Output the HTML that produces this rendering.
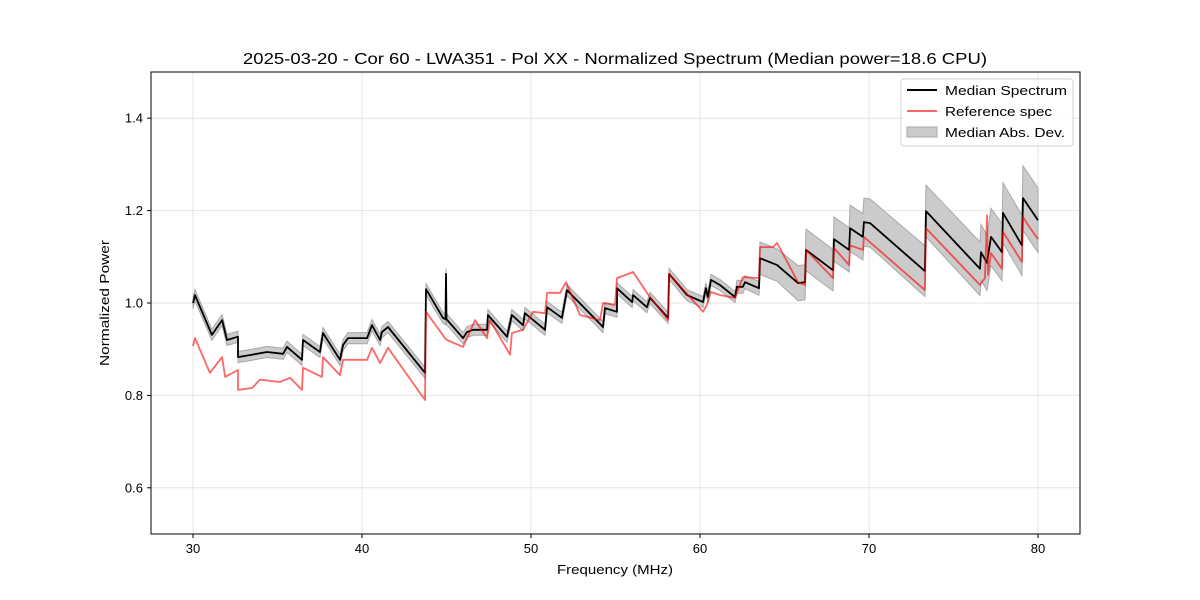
<!DOCTYPE html>
<html><head><meta charset="utf-8"><style>
body{margin:0;background:#fff}
svg{display:block;font-family:"Liberation Sans","DejaVu Sans",sans-serif}
</style></head><body>
<svg id="chart" width="1200" height="600" xmlns="http://www.w3.org/2000/svg"></svg>
<script>
const medFreq=[30.0,30.12,31.12,31.72,32.01,32.66,32.66,33.49,34.38,35.33,35.56,36.45,36.51,37.51,37.69,38.70,38.88,39.17,40.30,40.59,41.07,41.18,41.54,43.73,43.79,44.79,44.94,44.97,45.0,45.98,46.21,46.57,47.40,47.45,48.58,48.87,49.53,49.64,50.83,50.95,51.83,52.13,54.26,54.38,55.09,55.09,55.98,56.04,56.86,57.04,58.11,58.17,59.23,60.18,60.35,60.47,60.65,61.18,62.07,62.19,62.54,62.66,63.49,63.55,64.56,65.80,66.21,66.27,67.87,67.93,68.82,68.88,69.64,69.70,70.06,73.31,73.37,76.57,76.63,76.98,77.22,77.87,77.93,79.05,79.11,80.0];
const medVal=[1.000,1.017,0.931,0.963,0.920,0.927,0.883,0.888,0.894,0.890,0.905,0.877,0.920,0.894,0.935,0.877,0.909,0.924,0.924,0.952,0.920,0.937,0.948,0.849,1.030,0.968,0.965,1.063,0.965,0.924,0.937,0.942,0.942,0.974,0.927,0.974,0.952,0.978,0.942,0.991,0.968,1.028,0.948,0.989,0.981,1.032,1.002,1.017,0.991,1.011,0.968,1.063,1.017,1.002,1.032,1.013,1.050,1.039,1.013,1.035,1.035,1.045,1.032,1.097,1.082,1.043,1.045,1.115,1.071,1.138,1.115,1.162,1.143,1.175,1.173,1.069,1.199,1.074,1.110,1.087,1.143,1.110,1.195,1.125,1.227,1.179];
const medMad=[0.012,0.012,0.012,0.012,0.012,0.012,0.012,0.012,0.012,0.012,0.012,0.012,0.012,0.012,0.012,0.012,0.012,0.012,0.012,0.012,0.012,0.012,0.012,0.012,0.012,0.012,0.012,0.012,0.012,0.012,0.012,0.012,0.012,0.012,0.012,0.012,0.012,0.012,0.012,0.012,0.012,0.012,0.012,0.012,0.012,0.012,0.012,0.012,0.012,0.012,0.012,0.012,0.012,0.012,0.012,0.012,0.012,0.012,0.012,0.014,0.014,0.014,0.015,0.035,0.035,0.038,0.038,0.045,0.045,0.048,0.048,0.05,0.05,0.052,0.052,0.055,0.056,0.058,0.06,0.06,0.062,0.062,0.065,0.065,0.07,0.07];
const refFreq=[30.0,30.12,31.0,31.72,31.9,32.66,32.66,33.49,33.96,35.15,35.74,36.45,36.51,37.63,37.69,38.70,38.88,40.30,40.59,41.07,41.54,43.73,43.79,44.91,45.03,45.98,46.69,47.40,47.57,48.76,48.87,49.53,50.12,50.83,50.95,51.72,52.07,52.90,54.08,54.26,54.97,55.09,56.04,56.86,58.11,58.17,60.18,60.41,60.65,61.18,62.07,62.54,63.49,63.55,64.32,64.56,65.80,66.21,66.27,67.87,67.93,68.82,68.88,69.64,69.70,73.31,73.37,76.57,76.86,76.98,77.04,77.22,77.87,77.93,79.05,79.11,79.41,80.0];
const refVal=[0.907,0.924,0.849,0.883,0.840,0.855,0.812,0.816,0.834,0.829,0.838,0.812,0.860,0.840,0.883,0.844,0.877,0.877,0.903,0.870,0.903,0.790,0.981,0.924,0.920,0.905,0.963,0.924,0.963,0.888,0.935,0.942,0.981,0.978,1.022,1.022,1.045,0.974,0.963,1.000,0.996,1.054,1.067,1.022,0.963,1.063,0.981,0.996,1.024,1.017,1.011,1.056,1.054,1.121,1.121,1.130,1.045,1.039,1.115,1.054,1.119,1.082,1.125,1.115,1.143,1.028,1.162,1.039,1.054,1.190,1.061,1.108,1.074,1.154,1.089,1.186,1.169,1.138];
const xTicks=[30,40,50,60,70,80];
const yTicks=[0.6,0.8,1.0,1.2,1.4];

const NS='http://www.w3.org/2000/svg';
const svg=document.getElementById('chart');
const L=151,R=1080,T=72,B=534;
const xMin=27.515,xMax=82.485,yMin=0.5,yMax=1.5;
const sx=f=>L+(f-xMin)/(xMax-xMin)*(R-L);
const sy=v=>B-(v-yMin)/(yMax-yMin)*(B-T);
function mk(tag,attrs,parent){const e=document.createElementNS(NS,tag);for(const k in attrs)e.setAttribute(k,attrs[k]);(parent||svg).appendChild(e);return e;}

mk('rect',{x:0,y:0,width:1200,height:600,fill:'#fff'});
xTicks.forEach(t=>{const g=mk('line',{x1:sx(t),x2:sx(t),y1:T,y2:B,stroke:'#e4e4e4','stroke-width':1});

});
yTicks.forEach(t=>{const g=mk('line',{x1:L,x2:R,y1:sy(t),y2:sy(t),stroke:'#e4e4e4','stroke-width':1});

});

let up=medFreq.map((f,i)=>sx(f).toFixed(1)+','+sy(medVal[i]+medMad[i]).toFixed(1));
let dn=medFreq.map((f,i)=>sx(f).toFixed(1)+','+sy(medVal[i]-medMad[i]).toFixed(1)).reverse();
const band=mk('polygon',{points:up.concat(dn).join(' '),fill:'#cbcbcb',stroke:'#a8a8a8','stroke-width':1});



const med=mk('polyline',{points:medFreq.map((f,i)=>sx(f).toFixed(1)+','+sy(medVal[i]).toFixed(1)).join(' '),fill:'none',stroke:'#000','stroke-width':1.8,'stroke-linejoin':'round'});


const ref=mk('polyline',{points:refFreq.map((f,i)=>sx(f).toFixed(1)+','+sy(refVal[i]).toFixed(1)).join(' '),fill:'none',stroke:'#ff0000','stroke-opacity':0.6,'stroke-width':1.8,'stroke-linejoin':'round'});



const fr=mk('rect',{x:L,y:T,width:R-L,height:B-T,fill:'none',stroke:'#000','stroke-width':1});


xTicks.forEach(t=>{mk('line',{x1:sx(t),x2:sx(t),y1:B,y2:B+4,stroke:'#000'});
const tx=mk('text',{x:sx(t),y:B+19,'text-anchor':'middle','font-size':13});tx.textContent=t;

});
yTicks.forEach(t=>{mk('line',{x1:L-4,x2:L,y1:sy(t),y2:sy(t),stroke:'#000'});
const tx=mk('text',{x:L-8,y:sy(t)+4.5,'text-anchor':'end','font-size':13});tx.textContent=t.toFixed(1);

});
</script>
<svg style="position:absolute;left:0;top:0" width="1200" height="600" xmlns="http://www.w3.org/2000/svg" font-family="Liberation Sans, DejaVu Sans, sans-serif">
<text x="243" y="64" font-size="16" textLength="744" lengthAdjust="spacingAndGlyphs">2025-03-20 - Cor 60 - LWA351 - Pol XX - Normalized Spectrum (Median power=18.6 CPU)</text>
<text x="557" y="574" font-size="13" textLength="116" lengthAdjust="spacingAndGlyphs">Frequency (MHz)</text>
<text transform="translate(109,366) rotate(-90)" font-size="13" textLength="126" lengthAdjust="spacingAndGlyphs">Normalized Power</text>
<g>
<rect x="901" y="79" width="172" height="67" rx="3" fill="#fff" fill-opacity="0.8" stroke="#d0d0d0"/>
<line x1="907" y1="90" x2="937" y2="90" stroke="#000" stroke-width="2"/>
<text x="945" y="95" font-size="13" textLength="122" lengthAdjust="spacingAndGlyphs">Median Spectrum</text>
<line x1="907" y1="111" x2="937" y2="111" stroke="#ff6666" stroke-width="2"/>
<text x="945" y="116" font-size="13" textLength="107" lengthAdjust="spacingAndGlyphs">Reference spec</text>
<rect x="907" y="127" width="30" height="10" fill="#cbcbcb" stroke="#a8a8a8"/>
<text x="945" y="137" font-size="13" textLength="120" lengthAdjust="spacingAndGlyphs">Median Abs. Dev.</text>
</g>
</svg>
</body></html>
